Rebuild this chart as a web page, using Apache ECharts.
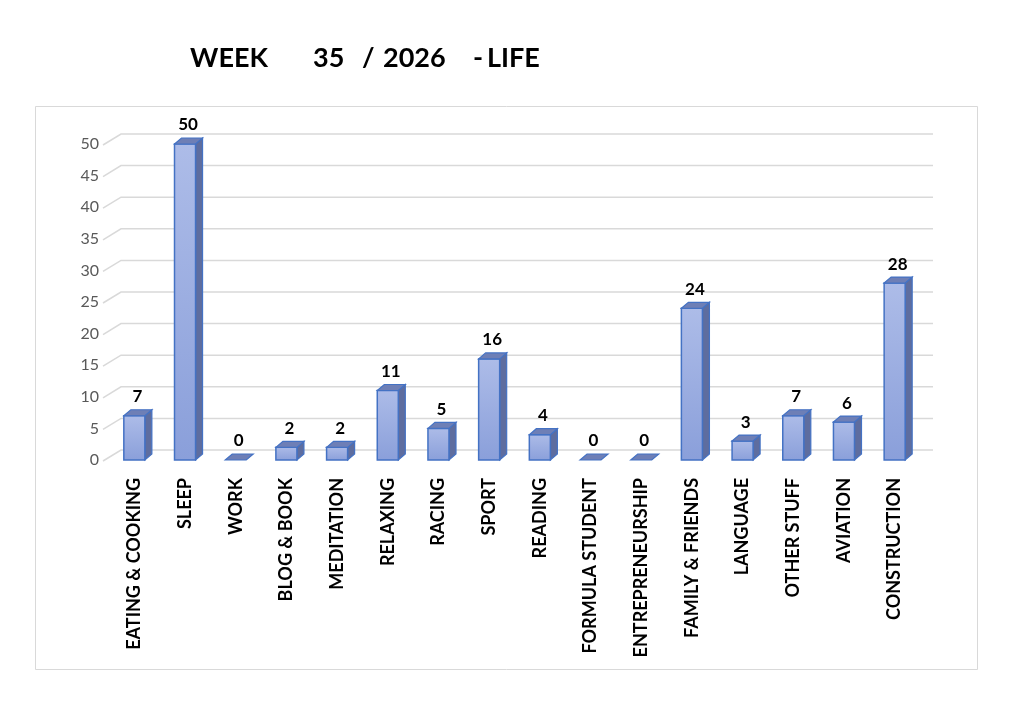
<!DOCTYPE html>
<html>
<head>
<meta charset="utf-8">
<script src="https://cdn.jsdelivr.net/npm/echarts@6/dist/echarts.min.js"></script>
<style>
  html, body { margin: 0; padding: 0; background: #fff; }
  #main { width: 1023px; height: 710px; }
</style>
</head>
<body>
<div id="main"></div>
<script>
var categories = ['EATING & COOKING', 'SLEEP', 'WORK', 'BLOG & BOOK', 'MEDITATION', 'RELAXING', 'RACING',
  'SPORT', 'READING', 'FORMULA STUDENT', 'ENTREPRENEURSHIP', 'FAMILY & FRIENDS', 'LANGUAGE',
  'OTHER STUFF', 'AVIATION', 'CONSTRUCTION'];
var values = [7, 50, 0, 2, 2, 11, 5, 16, 4, 0, 0, 24, 3, 7, 6, 28];
var yTicks = [0, 5, 10, 15, 20, 25, 30, 35, 40, 45, 50];
var titleParts = ['WEEK', '35', '/', '2026', '-', 'LIFE'];

var chart = echarts.init(document.getElementById('main'));

var DX = 7, DY = 6;      // bar depth
var WX = 18, WY = 11;    // back wall offset

function renderWall(params, api) {
  var cs = params.coordSys;
  var y = api.coord([0, api.value(0)])[1];
  var x0 = cs.x - 6;
  return {
    type: 'polyline',
    shape: { points: [[x0, y + 1], [x0 + WX, y + 1 - WY], [cs.x + cs.width + 13, y + 1 - WY]] },
    style: { stroke: '#d9d9d9', lineWidth: 1.5, fill: null },
    silent: true
  };
}

function renderBar(params, api) {
  var idx = api.value(0);
  var v = api.value(1);
  var top = api.coord([idx, v]);
  var bottom = api.coord([idx, 0]);
  var w = api.size([1, 0])[0] * 0.415;
  var x = top[0] - w / 2;
  var yT = top[1], yB = bottom[1];
  var border = '#4472c4';
  var children = [];
  if (v > 0) {
    children.push({
      type: 'polygon',
      shape: { points: [[x + w, yT], [x + w + DX, yT - DY], [x + w + DX, yB - DY], [x + w, yB]] },
      style: { fill: '#5e6d9f', stroke: border, lineWidth: 1.2 }
    });
    children.push({
      type: 'rect',
      shape: { x: x, y: yT, width: w, height: yB - yT },
      style: {
        fill: new echarts.graphic.LinearGradient(0, 0, 0, 1, [
          { offset: 0, color: '#adbce8' },
          { offset: 1, color: '#8a9fda' }
        ]),
        stroke: border, lineWidth: 1.5
      }
    });
  }
  children.push({
    type: 'polygon',
    shape: { points: [[x, yT], [x + DX, yT - DY], [x + w + DX, yT - DY], [x + w, yT]] },
    style: { fill: '#6e7fb6', stroke: border, lineWidth: 1.2 }
  });
  children.push({
    type: 'text',
    style: {
      text: String(v), x: top[0] + 3, y: yT - DY - 13,
      font: 'bold 17px Lato', fill: '#000', align: 'center', verticalAlign: 'middle'
    }
  });
  return { type: 'group', children: children };
}

var titleX = [190, 313, 362, 383, 473, 487];

var option = {
  animation: false,
  backgroundColor: '#fff',
  graphic: [
    {
      type: 'rect', z: -10, silent: true,
      shape: { x: 35.5, y: 106.5, width: 942, height: 563 },
      style: { fill: '#fff', stroke: '#d9d9d9', lineWidth: 1 }
    }
  ].concat(titleParts.map(function (t, i) {
    return {
      type: 'text', x: titleX[i], y: 58,
      style: { text: t, font: 'bold 27px Lato', fill: '#000', verticalAlign: 'middle' }
    };
  })),
  grid: { left: 109, top: 144, width: 811, height: 316 },
  xAxis: {
    type: 'category',
    data: categories,
    axisLine: { show: false },
    axisTick: { show: false },
    axisLabel: {
      rotate: 90, interval: 0, margin: 18,
      fontFamily: 'Lato', fontWeight: 'bold', fontSize: 18, color: '#000'
    }
  },
  yAxis: {
    type: 'value',
    min: 0, max: 50, interval: 5,
    splitLine: { show: false },
    axisLine: { show: false },
    axisTick: { show: false },
    axisLabel: { margin: 10, padding: [4, 0, 0, 0], fontFamily: 'Lato', fontSize: 16, color: '#595959' }
  },
  series: [
    {
      type: 'custom',
      z: 1,
      renderItem: renderWall,
      data: yTicks.map(function (v) { return [v]; }),
      encode: { y: 0 },
      silent: true
    },
    {
      type: 'custom',
      z: 2,
      renderItem: renderBar,
      data: values.map(function (v, i) { return [i, v]; }),
      encode: { x: 0, y: 1 }
    }
  ]
};

chart.setOption(option);
</script>
</body>
</html>
